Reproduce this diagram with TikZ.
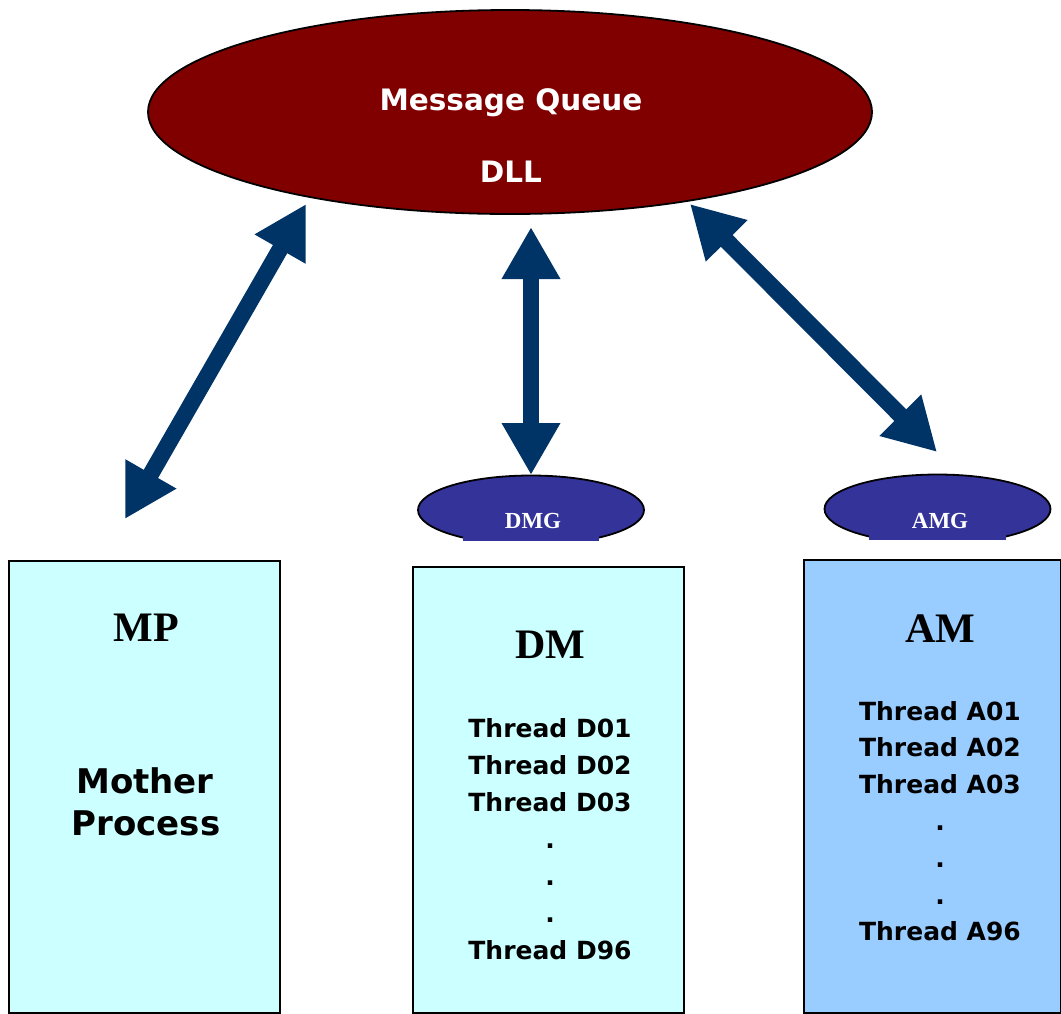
\documentclass[tikz,border=0pt]{standalone}
\usepackage{fontspec}
\setmainfont{Liberation Serif}
\newfontfamily\dvsans{DejaVu Sans}
\usetikzlibrary{positioning,arrows.meta,shapes.geometric}
\definecolor{maroonq}{HTML}{800000}
\definecolor{navyarr}{HTML}{003366}
\definecolor{indigog}{HTML}{333399}
\definecolor{cyanbox}{HTML}{CCFFFF}
\definecolor{bluebox}{HTML}{99CCFF}
\newcommand{\fsz}[1]{\fontsize{#1}{#1}\selectfont}

\begin{document}
\begin{tikzpicture}[x=1pt, y=-1pt,
  queue/.style={ellipse, draw=black, line width=1.8pt, fill=maroonq, minimum width=724pt, minimum height=204pt, inner sep=0pt},
  group/.style={ellipse, draw=black, line width=1.8pt, fill=indigog, minimum width=226pt, minimum height=69pt, inner sep=0pt},
  proc/.style={rectangle, draw=black, line width=1.5pt, fill=cyanbox, minimum width=271pt, inner sep=0pt, anchor=north west},
  qtext/.style={anchor=base, inner sep=0pt, text=white, font=\dvsans\bfseries\fsz{29.5}},
  gtext/.style={anchor=base, inner sep=0pt, text=white, font=\bfseries\fsz{23}},
  tag/.style={anchor=base, inner sep=0pt, font=\bfseries\fsz{42}},
  big/.style={anchor=base, inner sep=0pt, font=\dvsans\bfseries\fsz{34}},
  thr/.style={anchor=base, inner sep=0pt, font=\dvsans\bfseries\fsz{25}},
  dbl/.style={{Triangle[length=52pt,width=55pt]}-{Triangle[length=52pt,width=55pt]}, line width=16.5pt, navyarr}]
  \useasboundingbox (0,0) rectangle (1061,1013);
  % message queue
  \node[queue] (mq) at (510,112) {};
  \node[qtext] (mqt) at (511,110) {Message Queue};
  \node[qtext] (dll) at (511,182) {DLL};
  % group ellipses
  \node[group] (dmg) at (531,510) {};
  \fill[white] (463,541) rectangle (599,549);
  \fill[indigog] (463,532) rectangle (599,541);
  \node[gtext] (dmgt) at (533,528) {DMG};
  \node[group] (amg) at (937.5,509) {};
  \fill[white] (869,540) rectangle (1006,548);
  \fill[indigog] (869,531) rectangle (1006,540);
  \node[gtext] (amgt) at (940,528) {AMG};
  % processes
  \node[proc, minimum height=452pt] (mp) at (8,560) {};
  \node[proc, minimum height=446pt] (dm) at (412,566) {};
  \node[proc, minimum height=453pt, minimum width=257pt, fill=bluebox] (am) at (803,559) {};
  \node[tag] (mpl) at (146,641) {MP};
  \node[big] (mother) at (145,793) {Mother};
  \node[big] (process) at (146,835) {Process};
  \node[tag] (dml) at (550,658) {DM};
  \foreach \t [count=\k from 0] in {Thread D01,Thread D02,Thread D03,.,.,.,Thread D96}
    \node[thr] (dm\k) at (550,{737+37*\k}) {\t};
  \node[tag] (aml) at (940,642) {AM};
  \foreach \t [count=\k from 0] in {Thread A01,Thread A02,Thread A03,.,.,.,Thread A96}
    \node[thr] (am\k) at (940,{720+36.8*\k}) {\t};
  % links
  \coordinate (mpTop) at (306,204);
  \coordinate (mpBot) at (125,519);
  \coordinate (dmTop) at (531,227);
  \coordinate (dmBot) at (531,475);
  \coordinate (amTop) at (690,204);
  \coordinate (amBot) at (937,452);
  \draw[dbl] (mpTop) -- (mpBot);
  \draw[dbl] (dmTop) -- (dmBot);
  \draw[dbl] (amTop) -- (amBot);
\end{tikzpicture}
\end{document}
